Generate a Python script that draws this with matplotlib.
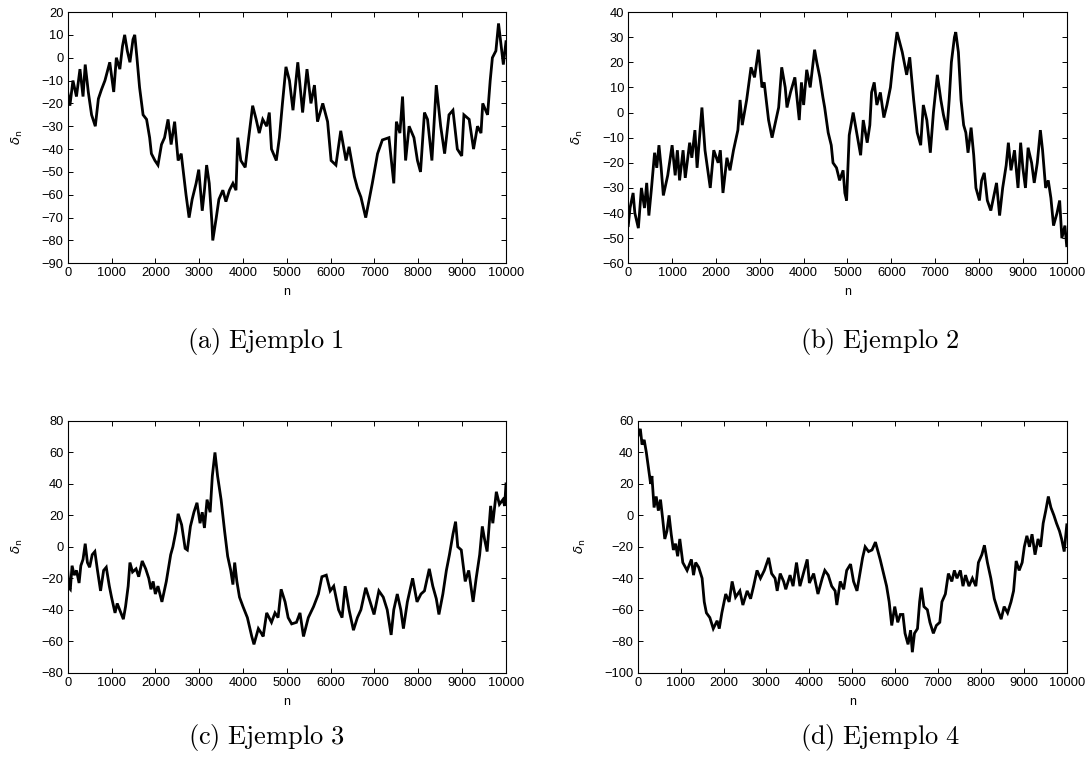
import matplotlib
matplotlib.use('Agg')
import matplotlib.pyplot as plt

plt.rcParams['font.family'] = ['Liberation Sans', 'DejaVu Sans']
plt.rcParams['font.size'] = 9

# sampled walks: step index n and displacement delta_n
n_a = [0, 50, 120, 200, 280, 350, 400, 470, 545, 630, 700, 770, 850, 960, 1050, 1110,
       1190, 1250, 1300, 1360, 1420, 1490, 1530, 1580, 1640, 1720, 1800, 1870, 1910, 1990,
       2060, 2140, 2210, 2290, 2360, 2440, 2520, 2590, 2650, 2700, 2770, 2840, 2930, 2990,
       3070, 3120, 3170, 3230, 3290, 3310, 3390, 3450, 3540, 3610, 3690, 3770, 3840, 3880,
       3950, 4050, 4130, 4220, 4300, 4370, 4450, 4540, 4600, 4650, 4760, 4830, 4900, 4980,
       5060, 5140, 5250, 5360, 5460, 5550, 5630, 5700, 5820, 5930, 6010, 6120, 6230, 6350,
       6420, 6540, 6610, 6690, 6800, 6880, 6950, 7070, 7180, 7330, 7440, 7500, 7580, 7640,
       7710, 7790, 7900, 7980, 8050, 8140, 8210, 8310, 8410, 8510, 8600, 8700, 8790, 8890,
       8990, 9040, 9160, 9260, 9350, 9430, 9470, 9580, 9640, 9690, 9770, 9830, 9890, 9940,
       10000]
d_a = [-15, -21, -10, -17, -5, -17, -3, -15, -25, -30, -18, -14, -10, -2, -15, 0,
       -5, 5, 10, 3, -2, 8, 10, 0, -13, -25, -27, -35, -42, -45,
       -47, -38, -35, -27, -38, -28, -45, -42, -52, -60, -70, -62, -55, -49,
       -67, -58, -47, -55, -72, -80, -70, -62, -58, -63, -58, -55, -58, -35,
       -45, -48, -35, -21, -27, -33, -27, -30, -24, -40, -45, -35, -20, -4,
       -10, -23, -2, -24, -5, -20, -12, -28, -20, -28, -45, -47, -32, -45,
       -39, -52, -57, -61, -70, -62, -55, -42, -36, -35, -55, -28, -33, -17,
       -45, -30, -35, -45, -50, -24, -27, -45, -12, -30, -42, -25, -23, -40,
       -43, -25, -27, -40, -30, -33, -20, -25, -10, 0, 3, 15, 5, -3,
       7]

n_b = [0, 40, 75, 110, 150, 230, 300, 370, 420, 470, 530, 600, 650, 700, 750, 800,
       900, 1000, 1070, 1120, 1170, 1250, 1300, 1400, 1450, 1520, 1570, 1680, 1750, 1870,
       1950, 2050, 2100, 2160, 2250, 2320, 2400, 2500, 2550, 2600, 2700, 2800, 2880, 2970,
       3050, 3100, 3200, 3280, 3380, 3430, 3500, 3580, 3620, 3700, 3800, 3900, 3950, 4000,
       4070, 4150, 4250, 4300, 4370, 4440, 4480, 4560, 4630, 4670, 4750, 4820, 4900, 4940,
       4980, 5040, 5130, 5210, 5300, 5360, 5450, 5510, 5550, 5610, 5670, 5750, 5830, 5900,
       5980, 6040, 6130, 6250, 6350, 6420, 6510, 6590, 6670, 6730, 6810, 6890, 6960, 7050,
       7130, 7190, 7270, 7320, 7370, 7440, 7470, 7530, 7590, 7650, 7700, 7750, 7820, 7880,
       7930, 8010, 8060, 8120, 8190, 8270, 8340, 8400, 8470, 8540, 8620, 8670, 8730, 8810,
       8890, 8950, 9000, 9060, 9120, 9200, 9260, 9330, 9400, 9450, 9520, 9580, 9640, 9700,
       9780, 9840, 9890, 9960, 10000]
d_b = [-45, -38, -35, -32, -40, -46, -30, -38, -28, -41, -30, -16, -22, -13, -22, -33,
       -25, -13, -25, -15, -27, -15, -26, -12, -18, -7, -22, 2, -15, -30,
       -15, -20, -15, -32, -18, -23, -15, -7, 5, -5, 5, 18, 14, 25,
       10, 12, -3, -10, -2, 2, 18, 10, 2, 8, 14, -3, 12, 3,
       17, 10, 25, 20, 14, 6, 2, -8, -13, -20, -22, -27, -23, -32,
       -35, -9, 0, -8, -17, -3, -12, -5, 8, 12, 3, 8, -2, 3,
       10, 20, 32, 24, 15, 22, 5, -8, -13, 3, -3, -16, 0, 15,
       5, -1, -7, 5, 20, 30, 32, 24, 5, -5, -8, -16, -6, -17,
       -30, -35, -27, -24, -35, -39, -33, -28, -41, -30, -21, -12, -23, -15,
       -30, -12, -22, -30, -14, -20, -28, -20, -7, -15, -30, -27, -34, -45,
       -40, -35, -50, -45, -53]

n_c = [0, 30, 60, 100, 150, 200, 260, 300, 350, 400, 450, 500, 560, 620, 680, 750,
       820, 880, 950, 1000, 1080, 1130, 1200, 1270, 1320, 1380, 1420, 1480, 1560, 1620,
       1700, 1780, 1850, 1900, 1950, 2000, 2060, 2150, 2250, 2350, 2400, 2470, 2520, 2600,
       2680, 2730, 2800, 2880, 2950, 3020, 3070, 3120, 3180, 3250, 3300, 3360, 3420, 3500,
       3580, 3650, 3720, 3770, 3810, 3860, 3920, 4000, 4100, 4200, 4250, 4350, 4420, 4460,
       4540, 4650, 4730, 4800, 4870, 4960, 5030, 5110, 5220, 5300, 5380, 5490, 5610, 5720,
       5800, 5900, 5990, 6070, 6180, 6260, 6330, 6420, 6520, 6610, 6690, 6800, 6900, 6990,
       7100, 7200, 7290, 7380, 7440, 7520, 7600, 7660, 7750, 7870, 7970, 8060, 8140, 8250,
       8330, 8410, 8470, 8560, 8640, 8710, 8790, 8850, 8900, 8980, 9070, 9150, 9250, 9320,
       9400, 9460, 9510, 9570, 9650, 9700, 9780, 9850, 9930, 9970, 10000]
d_c = [-15, -26, -27, -12, -18, -15, -23, -12, -8, 2, -10, -13, -5, -3, -15, -28,
       -15, -13, -25, -32, -42, -36, -41, -46, -38, -25, -10, -16, -14, -19,
       -9, -14, -20, -27, -22, -30, -25, -35, -22, -5, 0, 10, 21, 14,
       -1, -2, 13, 22, 28, 15, 22, 12, 30, 22, 45, 60, 45, 30,
       10, -6, -15, -24, -10, -22, -32, -38, -45, -57, -62, -52, -55, -57,
       -42, -48, -42, -45, -27, -35, -45, -49, -48, -42, -57, -45, -38, -30,
       -19, -18, -28, -25, -40, -45, -25, -40, -53, -45, -40, -26, -35, -43,
       -28, -32, -40, -56, -40, -30, -40, -52, -35, -20, -35, -30, -28, -14,
       -25, -33, -43, -30, -15, -5, 8, 16, 0, -2, -22, -15, -35, -20,
       -5, 13, 5, -3, 26, 15, 35, 27, 30, 26, 40]

n_d = [0, 60, 100, 150, 200, 250, 300, 330, 380, 430, 480, 530, 580, 630, 680, 730,
       780, 830, 880, 930, 980, 1050, 1150, 1250, 1300, 1350, 1420, 1500, 1550, 1600,
       1680, 1760, 1850, 1900, 1960, 2050, 2130, 2200, 2280, 2380, 2450, 2550, 2630, 2700,
       2780, 2860, 2950, 3050, 3120, 3200, 3250, 3320, 3400, 3450, 3550, 3620, 3700, 3780,
       3850, 3950, 4000, 4100, 4200, 4300, 4360, 4440, 4520, 4600, 4640, 4720, 4800, 4870,
       4960, 5030, 5110, 5190, 5240, 5300, 5380, 5460, 5540, 5590, 5650, 5730, 5800, 5860,
       5920, 5990, 6060, 6120, 6180, 6230, 6300, 6360, 6400, 6450, 6520, 6570, 6610, 6670,
       6750, 6810, 6890, 6960, 7040, 7090, 7170, 7240, 7320, 7380, 7440, 7520, 7580, 7640,
       7720, 7800, 7880, 7940, 8020, 8080, 8150, 8230, 8310, 8390, 8470, 8540, 8620, 8700,
       8760, 8820, 8890, 8960, 9010, 9070, 9130, 9190, 9260, 9330, 9390, 9450, 9510, 9570,
       9630, 9700, 9760, 9830, 9880, 9940, 10000]
d_d = [50, 55, 45, 48, 40, 30, 20, 25, 5, 12, 3, 10, -2, -15, -10, 0,
       -12, -22, -18, -26, -15, -30, -35, -28, -38, -30, -33, -40, -55, -62,
       -65, -72, -67, -72, -62, -50, -55, -42, -52, -48, -57, -48, -53, -45,
       -35, -40, -35, -27, -37, -40, -48, -37, -42, -47, -38, -45, -30, -45,
       -38, -28, -43, -37, -50, -40, -35, -38, -45, -48, -57, -42, -47, -35,
       -31, -42, -48, -35, -27, -20, -23, -22, -17, -22, -28, -37, -45, -55,
       -70, -58, -68, -63, -63, -75, -82, -73, -87, -75, -72, -55, -46, -58,
       -60, -68, -75, -70, -68, -55, -50, -37, -42, -35, -40, -35, -45, -38,
       -45, -40, -45, -30, -25, -19, -30, -40, -53, -60, -66, -58, -62, -55,
       -48, -29, -35, -30, -20, -13, -20, -12, -25, -15, -20, -5, 3, 12,
       5, 0, -5, -10, -15, -23, -6]

panels = [
    (n_a, d_a, (-90, 20), 10, r'$\mathrm{(a)\ Ejemplo\ 1}$'),
    (n_b, d_b, (-60, 40), 10, r'$\mathrm{(b)\ Ejemplo\ 2}$'),
    (n_c, d_c, (-80, 80), 20, r'$\mathrm{(c)\ Ejemplo\ 3}$'),
    (n_d, d_d, (-100, 60), 20, r'$\mathrm{(d)\ Ejemplo\ 4}$'),
]
# axes rectangles (figure fraction) and caption anchors
rects = [[0.0621, 0.6558, 0.4021, 0.3285], [0.5764, 0.6558, 0.4022, 0.3285],
         [0.0621, 0.1207, 0.4021, 0.3290], [0.5851, 0.1207, 0.3936, 0.3290]]
captions_xy = [(0.244, 0.554), (0.807, 0.554), (0.244, 0.036), (0.807, 0.036)]

fig = plt.figure(figsize=(10.9, 7.65), dpi=100)
for (n, d, ylim, step, cap), rect, (cx, cy) in zip(panels, rects, captions_xy):
    ax = fig.add_axes(rect)
    ax.plot(n, d, color='black', lw=2.0, solid_joinstyle='miter')
    ax.set_xlim(0, 10000)
    ax.set_ylim(*ylim)
    ax.set_xticks(range(0, 10001, 1000))
    ax.set_yticks(range(ylim[0], ylim[1] + 1, step))
    ax.tick_params(direction='in', top=True, right=True, length=3.5, width=0.7,
                   pad=3, labelsize=9.3)
    for sp in ax.spines.values():
        sp.set_linewidth(0.8)
    ax.set_xlabel('n', fontsize=9, labelpad=5)
    ax.set_ylabel(r'$\delta_{\rm n}$', fontsize=9.5, labelpad=12)
    fig.text(cx, cy, cap, ha='center', va='center', fontsize=19,
             math_fontfamily='cm')

fig.savefig('out.png', dpi=100)
